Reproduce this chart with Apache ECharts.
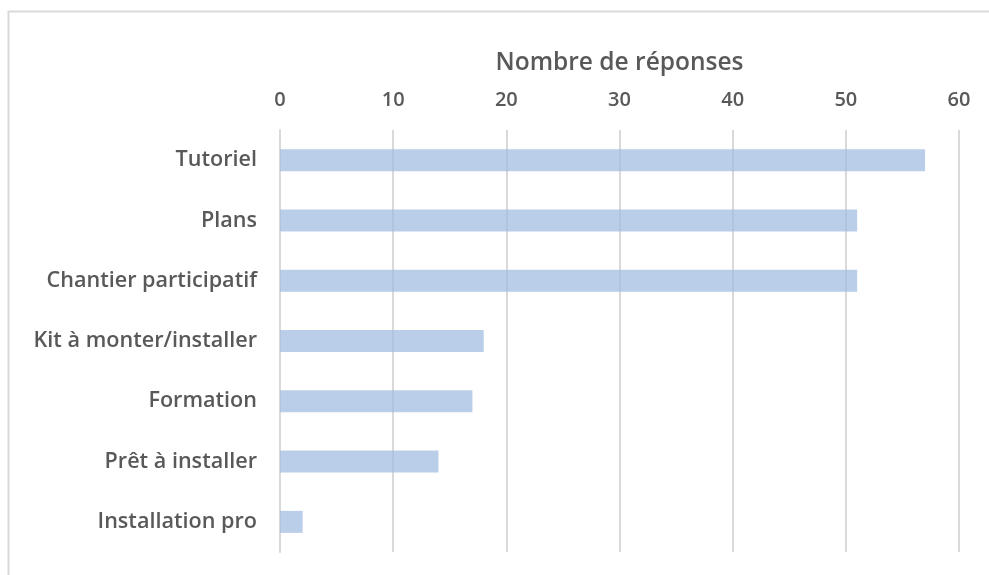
<!DOCTYPE html>
<html>
<head>
<meta charset="utf-8">
<script src="https://cdn.jsdelivr.net/npm/echarts@6/dist/echarts.min.js"></script>
<style>
  html, body { margin: 0; padding: 0; background: #fff; }
  #chart { width: 989px; height: 575px; }
</style>
</head>
<body>
<div id="chart"></div>
<script>
// categories from top to bottom
const categories = ['Tutoriel', 'Plans', 'Chantier participatif', 'Kit à monter/installer', 'Formation', 'Prêt à installer', 'Installation pro']
const responses = [57, 51, 51, 18, 17, 14, 2]
const axisTitle = 'Nombre de réponses'

const chart = echarts.init(document.getElementById('chart'))

chart.setOption({
  animation: false,
  textStyle: { fontFamily: '"Open Sans", sans-serif', fontWeight: 600 },
  graphic: [
    {
      type: 'rect',
      shape: { x: 8.5, y: 11.5, width: 1100, height: 700 },
      style: { fill: 'none', stroke: '#d9d9d9', lineWidth: 2 },
      silent: true
    }
  ],
  grid: {
    left: 280,
    right: 30,
    top: 130,
    bottom: 23
  },
  xAxis: {
    type: 'value',
    position: 'top',
    min: 0,
    max: 60,
    interval: 10,
    name: axisTitle,
    nameLocation: 'middle',
    nameGap: 54,
    nameTextStyle: { color: '#595959', fontSize: 24.5, fontWeight: 600 },
    axisLine: { show: false },
    axisTick: { show: false },
    axisLabel: { color: '#595959', fontSize: 20, fontWeight: 600, margin: 20 },
    splitLine: { show: true, lineStyle: { color: '#d9d9d9', width: 2 } }
  },
  yAxis: {
    type: 'category',
    inverse: true,
    data: categories,
    axisLine: { show: true, lineStyle: { color: '#d9d9d9', width: 2 } },
    axisTick: { show: false },
    axisLabel: { color: '#595959', fontSize: 21.6, fontWeight: 600, margin: 23 }
  },
  series: [
    {
      name: axisTitle,
      type: 'bar',
      data: responses,
      barWidth: 22,
      itemStyle: { color: 'rgba(160, 186, 225, 0.72)' }
    }
  ]
})
</script>
</body>
</html>
